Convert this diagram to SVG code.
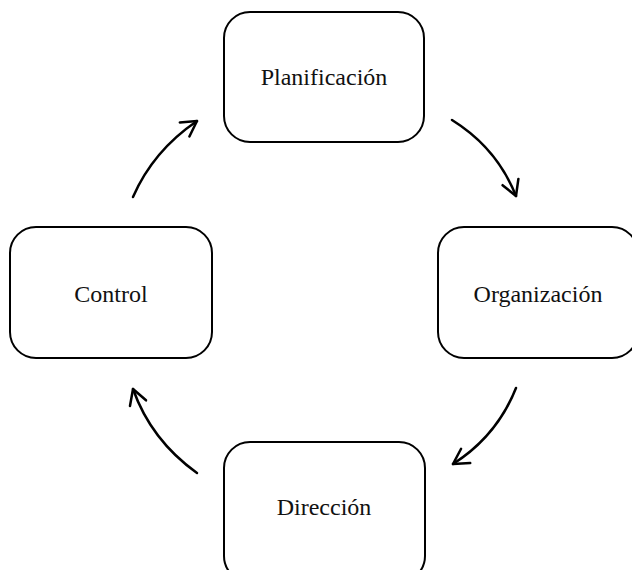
<svg xmlns="http://www.w3.org/2000/svg" width="632" height="570" viewBox="0 0 632 570">
<style>
.box{fill:#fff;stroke:#000;stroke-width:2}
.lbl{font-family:"Liberation Serif","DejaVu Serif",serif;font-size:24px;fill:#111;text-anchor:middle}
.arr{fill:none;stroke:#000;stroke-width:2.5;stroke-linecap:round;marker-end:url(#ah)}
</style>
<defs>
<marker id="ah" markerUnits="userSpaceOnUse" markerWidth="22" markerHeight="22" refX="18" refY="11" orient="auto" overflow="visible">
<path d="M3,2.5 L18,11 L3,19.5" fill="none" stroke="#000" stroke-width="2.5" stroke-linecap="round" stroke-linejoin="round"/>
</marker>
</defs>
<rect width="632" height="570" fill="#fff"/>
<g id="connectors">
<path class="arr" d="M452,120 Q497,148 516,196"/>
<path class="arr" d="M516,388 Q497,436 453,464"/>
<path class="arr" d="M197,473 Q151,440 133,389"/>
<path class="arr" d="M133,197 Q153,151 197,121"/>
</g>
<g id="planificacion">
<rect class="box" x="224" y="12" width="200" height="130" rx="26"/>
<text class="lbl" x="324" y="85">Planificación</text>
</g>
<g id="organizacion">
<rect class="box" x="438" y="227" width="200" height="131" rx="26"/>
<text class="lbl" x="538" y="302">Organización</text>
</g>
<g id="direccion">
<rect class="box" x="224" y="442" width="201" height="140" rx="26"/>
<text class="lbl" x="324" y="515">Dirección</text>
</g>
<g id="control">
<rect class="box" x="10" y="227" width="202" height="131" rx="26"/>
<text class="lbl" x="111" y="302">Control</text>
</g>
</svg>
